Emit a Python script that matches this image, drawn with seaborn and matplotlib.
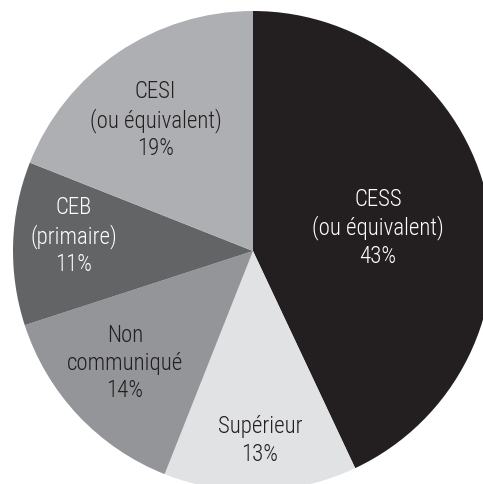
import matplotlib
matplotlib.use("Agg")
import matplotlib.pyplot as plt
import seaborn as sns
import numpy as np

categories = ["CESS\n(ou équivalent)", "Supérieur", "Non\ncommuniqué", "CEB\n(primaire)", "CESI\n(ou équivalent)"]
values = [43, 13, 14, 11, 19]
pct_labels = ["43%", "13%", "14%", "11%", "19%"]

colors = ["#231f20", "#e1e2e4", "#939598", "#636466", "#aeafb2"]
text_colors = ["white", "#231f20", "#231f20", "white", "#231f20"]
label_radii = [0.53, 0.79, 0.71, 0.75, 0.68]
angle_shift = [-2.0, 0.3, -2.0, -3.0, 2.5]

sns.set_theme(style="white")
plt.rcParams['font.family'] = ['Roboto Condensed', 'DejaVu Sans Condensed', 'Liberation Sans Narrow', 'Roboto', 'DejaVu Sans']

W, H = 483, 484
fig = plt.figure(figsize=(W / 100, H / 100), dpi=100)
cx, cy, R = 253, 251, 240
ax = fig.add_axes([(cx - R) / W, (H - cy - R) / H, 2 * R / W, 2 * R / H])
ax.set_axis_off()

wedges, _ = ax.pie(values, colors=colors, startangle=90, counterclock=False,
                   radius=1.0, wedgeprops=dict(linewidth=0))
ax.set_xlim(-1, 1)
ax.set_ylim(-1, 1)
ax.set_aspect("auto")

for w, cat, pct, tc, r, da in zip(wedges, categories, pct_labels, text_colors, label_radii, angle_shift):
    mid = np.deg2rad((w.theta1 + w.theta2) / 2 + da)
    x, y = r * np.cos(mid), r * np.sin(mid)
    ax.text(x, y, cat + "\n" + pct, ha="center", va="center", color=tc,
            fontsize=16.5, fontweight="light", linespacing=1.25)

fig.savefig("out.png", dpi=100)
